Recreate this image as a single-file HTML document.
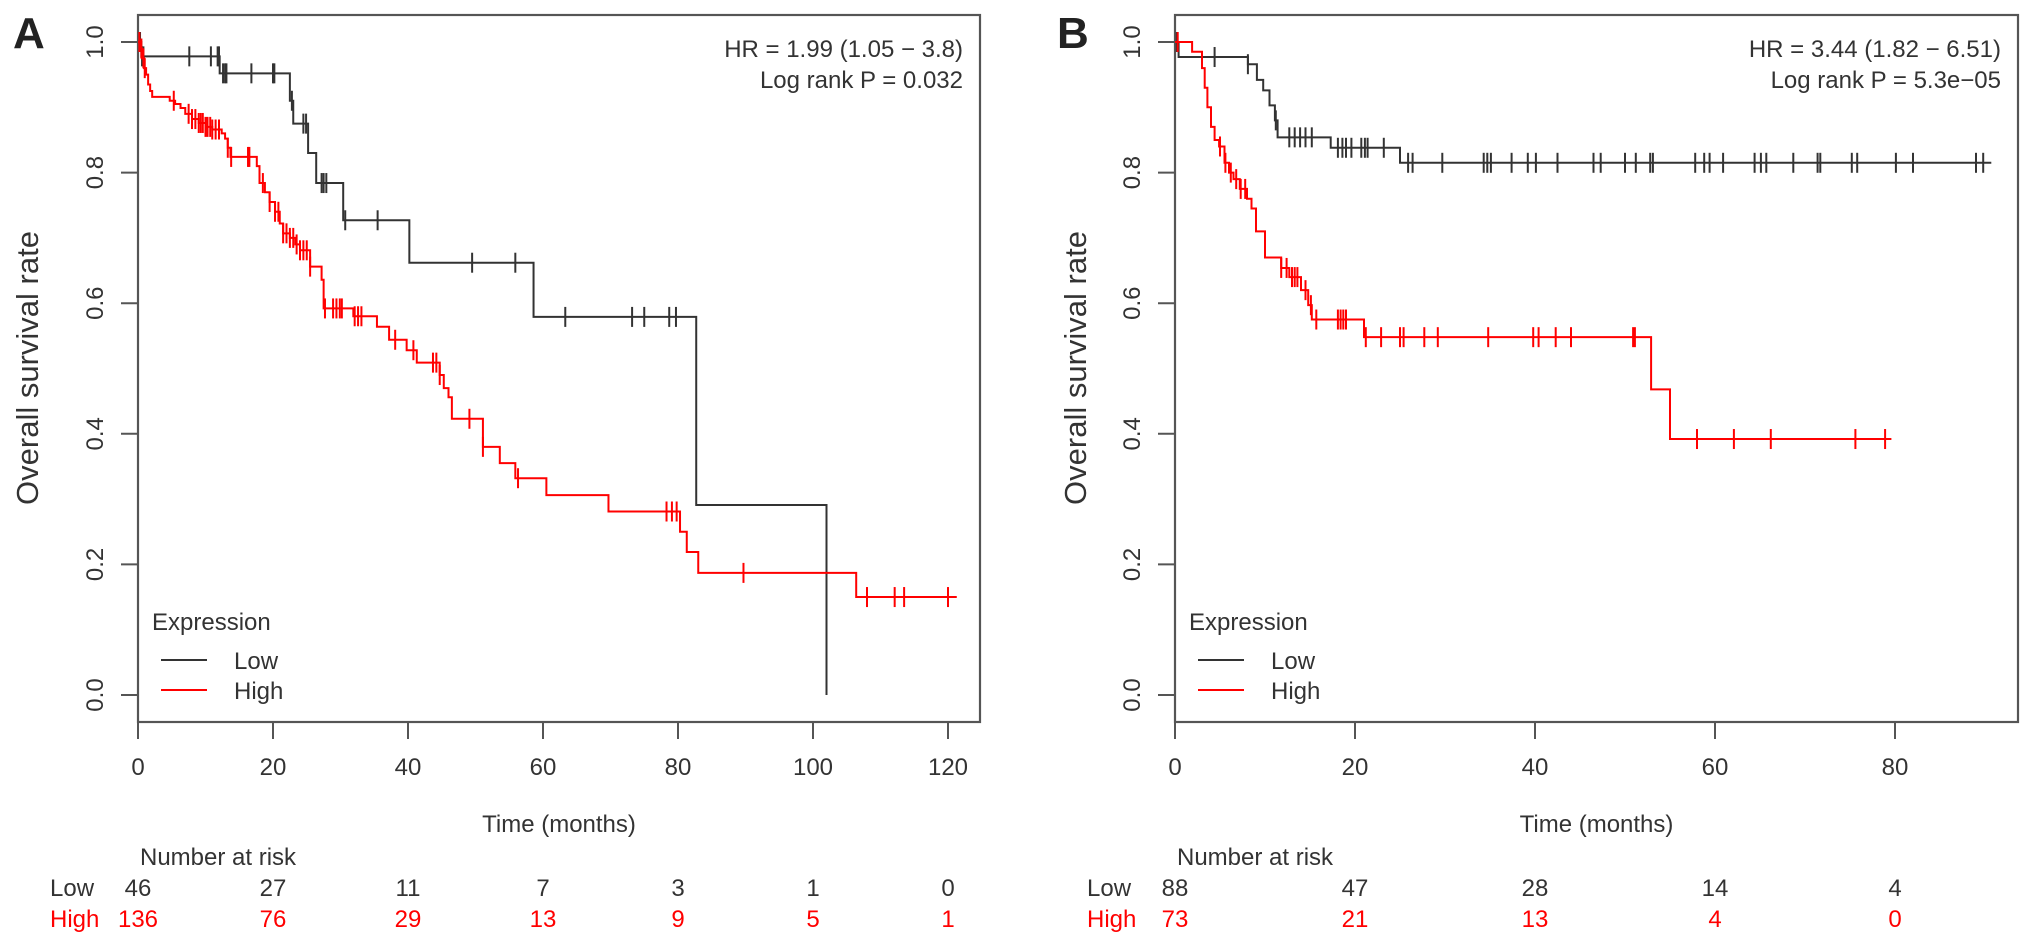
<!DOCTYPE html>
<html><head><meta charset="utf-8"><style>
html,body{margin:0;padding:0;background:#fff;}
svg text{font-family:"Liberation Sans",Arial,sans-serif;}
</style></head><body>
<svg id="chart" xmlns="http://www.w3.org/2000/svg" width="2031" height="946" viewBox="0 0 2031 946"></svg>
<script>
// ---------- Panel A data ----------
const aLowSteps = [[0,1],[0.5,0.978],[12.1,0.952],[22.5,0.91],[23,0.875],[25.2,0.83],[26.4,0.784],[30.4,0.727],[40.2,0.662],[58.6,0.579],[82.7,0.291],[102,0]];
const aLowEnd = 102;
const aLowCens = [0.3,0.6,0.8,7.6,10.8,11.8,12.0,12.6,12.9,13.1,16.8,20.0,20.2,22.8,24.5,24.9,27.2,27.5,27.9,30.7,35.5,49.5,55.9,63.3,73.2,75.0,78.7,79.7];
const aHighSteps = [[0,1],[0.3,0.99],[0.6,0.975],[0.9,0.96],[1.2,0.95],[1.5,0.935],[1.8,0.925],[2.1,0.916],[4.7,0.91],[5.5,0.905],[6.3,0.899],[7,0.89],[8,0.882],[9,0.876],[10,0.87],[11,0.866],[12.4,0.86],[12.9,0.852],[13.3,0.838],[13.7,0.824],[17.6,0.81],[18,0.784],[18.8,0.77],[19.5,0.755],[20.3,0.74],[21,0.722],[21.5,0.707],[22.5,0.70],[23.3,0.69],[24,0.681],[25.5,0.656],[27.2,0.636],[27.5,0.592],[31.9,0.58],[35.4,0.564],[37.2,0.544],[39.8,0.528],[41.3,0.509],[44.7,0.49],[45.3,0.47],[46,0.456],[46.5,0.423],[51.1,0.380],[53.6,0.355],[55.9,0.332],[60.5,0.306],[69.7,0.281],[80.3,0.250],[81.3,0.219],[83.0,0.187],[106.4,0.15]];
const aHighEnd = 121.3;
const aHighCens = [0.2,0.5,0.8,1.0,5.3,7.5,8.0,8.5,9.0,9.3,9.6,10.0,10.3,10.7,11.0,11.5,12.0,13.3,13.8,16.3,16.5,18.5,19.5,20.3,20.8,21.5,22.0,22.5,23.0,23.5,24.0,24.5,25.0,25.5,27.7,28.9,29.4,29.9,30.2,32.1,32.6,33.1,38.1,40.8,43.7,44.2,44.7,49.1,51.1,56.3,78.3,79.1,79.8,89.7,108,112.1,113.5,120];
const aXTicks = [0,20,40,60,80,100,120];
const aRiskLow = [46,27,11,7,3,1,0];
const aRiskHigh = [136,76,29,13,9,5,1];
// ---------- Panel B data ----------
const bLowSteps = [[0,1],[0.4,0.977],[8.1,0.966],[9.1,0.942],[9.8,0.926],[10.5,0.903],[11.1,0.88],[11.4,0.854],[17.3,0.838],[25,0.815]];
const bLowEnd = 90.7;
const bLowCens = [0.2,4.4,8.1,11.2,12.7,13.3,13.9,14.5,15.2,18.1,18.6,19.0,19.6,20.7,21.1,21.4,23.2,25.9,26.4,29.7,34.3,34.7,35.1,37.4,39.2,40.1,42.5,46.5,47.3,50.0,51.2,52.8,53.1,57.8,58.8,59.4,60.9,64.4,65.1,65.7,68.7,71.4,71.7,75.2,75.8,80.1,82.0,89.0,89.8];
const bHighSteps = [[0,1],[1.9,0.985],[3.0,0.96],[3.3,0.93],[3.6,0.90],[4.0,0.87],[4.4,0.85],[4.9,0.84],[5.5,0.815],[6.0,0.80],[6.5,0.79],[7.2,0.775],[8.0,0.76],[8.5,0.745],[9.0,0.71],[10.0,0.67],[11.8,0.654],[12.7,0.64],[14.0,0.62],[14.8,0.597],[15.2,0.575],[21.0,0.548],[52.9,0.468],[55.0,0.392]];
const bHighEnd = 79.6;
const bHighCens = [0.3,5.0,5.6,6.2,6.8,7.3,7.8,11.8,12.4,13.0,13.3,13.6,14.5,15.1,15.7,18.1,18.4,18.7,19.0,21.2,22.9,25.0,25.4,27.7,29.2,34.8,39.8,40.4,42.3,44.0,50.9,51.1,58.0,62.1,66.2,75.6,78.9];
const bXTicks = [0,20,40,60,80];
const bRiskLow = [88,47,28,14,4];
const bRiskHigh = [73,21,13,4,0];
const yTicks = [0,0.2,0.4,0.6,0.8,1.0];

const NS = "http://www.w3.org/2000/svg";
const svg = document.getElementById('chart');
function mk(tag, attrs, parent){ const e=document.createElementNS(NS,tag); for(const k in attrs) e.setAttribute(k,attrs[k]); (parent||svg).appendChild(e); return e; }
function txt(s, attrs, parent){ const e=mk('text',attrs,parent); e.textContent=s; return e; }

function survAt(steps,t){ let v=steps[0][1]; for(const s of steps){ if(s[0]<=t) v=s[1]; else break;} return v; }

function panel(o){
  const g = mk('g',{});
  
  
  const X = t => o.x0 + t*o.px;
  const Y = v => 695 - v*653;
  const box = mk('rect',{x:o.x0,y:15,width:o.right-o.x0,height:707,fill:'none',stroke:'#555','stroke-width':2.2},g);
  
  
  for(const v of yTicks){
    const t = mk('line',{x1:o.x0-17,x2:o.x0,y1:Y(v),y2:Y(v),stroke:'#555','stroke-width':2},g);
    
    
    const l = txt(v.toFixed(1),{transform:`translate(${o.x0-35},${Y(v)}) rotate(-90)`,'text-anchor':'middle','font-size':24,fill:'#333'},g);
    
    
  }
  for(const v of o.xTicks){
    const t = mk('line',{x1:X(v),x2:X(v),y1:722,y2:739,stroke:'#555','stroke-width':2},g);
    
    
    const l = txt(String(v),{x:X(v),y:775,'text-anchor':'middle','font-size':24,fill:'#333'},g);
    
    
  }
  const yt = txt('Overall survival rate',{transform:`translate(${o.titleX},368) rotate(-90)`,'text-anchor':'middle','font-size':31,fill:'#333'},g);
  
  
  const xt = txt('Time (months)',{x:(o.x0+o.right)/2,y:832,'text-anchor':'middle','font-size':24,fill:'#333'},g);
  
  
  const pl = txt(o.letter,{x:o.letterX,y:48,'font-size':44,'font-weight':'bold',fill:'#222'},g);
  
  
  const hr1 = txt(o.hr,{x:o.right-17,y:57,'text-anchor':'end','font-size':24,fill:'#333'},g);
  
  
  const hr2 = txt(o.p,{x:o.right-17,y:88,'text-anchor':'end','font-size':24,fill:'#333'},g);
  
  
  const series = [{steps:o.lowSteps,end:o.lowEnd,cens:o.lowCens,col:'#333',n:'low'},{steps:o.highSteps,end:o.highEnd,cens:o.highCens,col:'#f00',n:'high'}];
  for(const s of series){
    let d = `M${X(s.steps[0][0])},${Y(s.steps[0][1])}`;
    for(let i=1;i<s.steps.length;i++){ d += ` H${X(s.steps[i][0])} V${Y(s.steps[i][1])}`; }
    d += ` H${X(s.end)}`;
    const p = mk('path',{d:d,fill:'none',stroke:s.col,'stroke-width':2},g);
    
    
    for(const c of s.cens){
      const y = Y(survAt(s.steps,c));
      const m = mk('line',{x1:X(c),x2:X(c),y1:y-10,y2:y+10,stroke:s.col,'stroke-width':2},g);
      
      
    }
  }
  const lx = o.x0+14;
  const lg = txt('Expression',{x:lx,y:630,'font-size':24,fill:'#333'},g);
  
  
  [['Low','#333',660],['High','#f00',690]].forEach(([n,c,y])=>{
    const l = mk('line',{x1:lx+9,x2:lx+55,y1:y,y2:y,stroke:c,'stroke-width':2},g);
    
    
    const t = txt(n,{x:lx+82,y:y+9,'font-size':24,fill:'#333'},g);
    
    
  });
  const nr = txt('Number at risk',{x:o.x0+2,y:865,'font-size':24,fill:'#333'},g);
  
  
  const rl = txt('Low',{x:o.x0-88,y:896,'font-size':24,fill:'#333'},g);
  
  
  const rh = txt('High',{x:o.x0-88,y:927,'font-size':24,fill:'#f00'},g);
  
  
  o.xTicks.forEach((t,i)=>{
    const a = txt(String(o.riskLow[i]),{x:X(t),y:896,'text-anchor':'middle','font-size':24,fill:'#333'},g);
    
    
    const b = txt(String(o.riskHigh[i]),{x:X(t),y:927,'text-anchor':'middle','font-size':24,fill:'#f00'},g);
    
    
  });
}
panel({name:'panel-a',x0:138,right:980,px:6.75,xTicks:aXTicks,titleX:38,letter:'A',letterX:13,
  hr:'HR = 1.99 (1.05 \u2212 3.8)',p:'Log rank  P = 0.032',
  lowSteps:aLowSteps,lowEnd:aLowEnd,lowCens:aLowCens,highSteps:aHighSteps,highEnd:aHighEnd,highCens:aHighCens,
  riskLow:aRiskLow,riskHigh:aRiskHigh});
panel({name:'panel-b',x0:1175,right:2018,px:9.0,xTicks:bXTicks,titleX:1086,letter:'B',letterX:1057,
  hr:'HR = 3.44 (1.82 \u2212 6.51)',p:'Log rank  P = 5.3e\u221205',
  lowSteps:bLowSteps,lowEnd:bLowEnd,lowCens:bLowCens,highSteps:bHighSteps,highEnd:bHighEnd,highCens:bHighCens,
  riskLow:bRiskLow,riskHigh:bRiskHigh});
</script>
</body></html>
